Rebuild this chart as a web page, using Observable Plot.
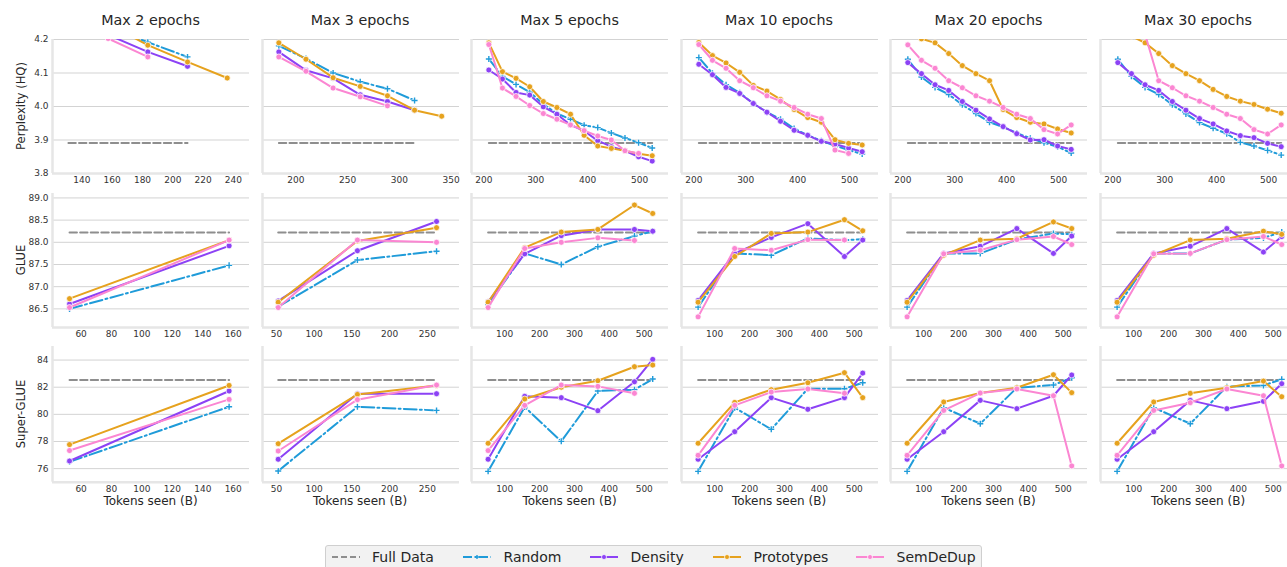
<!DOCTYPE html>
<html><head><meta charset="utf-8">
<script src="https://cdn.jsdelivr.net/npm/d3@7"></script>
<script src="https://cdn.jsdelivr.net/npm/@observablehq/plot@0.6"></script>
<style>
html,body{margin:0;padding:0;background:#fff;overflow:hidden;}
#wrap{position:relative;width:1287px;height:567px;overflow:hidden;font-family:"DejaVu Sans",sans-serif;color:#262626;background:#fff;}
.abs{position:absolute;white-space:nowrap;line-height:1;}
</style></head><body><div id="wrap"></div>
<script>
// ---------- data ----------
const epochLabels = ["Max 2 epochs","Max 3 epochs","Max 5 epochs","Max 10 epochs","Max 20 epochs","Max 30 epochs"];
const methods = ["Random","Density","Prototypes","SemDeDup"];
const rowLabels = ["Perplexity (HQ)","GLUE","Super-GLUE"];
const xLabel = "Tokens seen (B)";

const tokensPpl = [131.1,157.3,183.5,209.7,235.9,262.1,288.4,314.6,340.8,367.0,393.2,419.4,445.6,471.9,498.1,524.3];
const tokensEval = [52.4,157.3,262.1,367.0,471.9,524.3];
const pplStart = [0,2,3,3,3,3];

const pplRandom = [
 [4.32,4.234,4.192,4.148],
 [4.181,4.143,4.1,4.074,4.053,4.018],
 [4.142,4.09,4.066,4.043,4.007,3.979,3.962,3.944,3.937,3.921,3.906,3.892,3.876],
 [4.146,4.099,4.065,4.041,4.009,3.983,3.962,3.934,3.914,3.898,3.883,3.87,3.858],
 [4.141,4.088,4.057,4.036,4.005,3.979,3.953,3.939,3.921,3.905,3.892,3.88,3.861],
 [4.141,4.09,4.057,4.036,4.005,3.978,3.952,3.935,3.919,3.893,3.882,3.869,3.855]
];
const pplDensity = [
 [4.3,4.214,4.163,4.12],
 [4.163,4.108,4.084,4.035,4.015,3.989],
 [4.109,4.082,4.042,4.034,3.999,3.977,3.945,3.927,3.898,3.88,3.868,3.85,3.837],
 [4.126,4.095,4.057,4.039,4.009,3.983,3.956,3.929,3.914,3.896,3.888,3.876,3.865],
 [4.131,4.098,4.065,4.048,4.015,3.989,3.963,3.94,3.919,3.9,3.901,3.882,3.872],
 [4.131,4.098,4.065,4.048,4.015,3.989,3.964,3.948,3.927,3.913,3.907,3.89,3.88]
];
const pplPrototypes = [
 [4.33,4.247,4.183,4.133,4.085],
 [4.19,4.141,4.086,4.06,4.032,3.989,3.971],
 [4.19,4.104,4.084,4.059,4.015,3.997,3.977,3.914,3.882,3.875,3.868,3.859,3.853],
 [4.191,4.152,4.13,4.102,4.063,4.046,4.021,3.991,3.967,3.953,3.901,3.89,3.885],
 [4.24,4.202,4.19,4.158,4.122,4.098,4.077,3.991,3.967,3.953,3.948,3.933,3.921],
 [4.24,4.21,4.19,4.158,4.122,4.098,4.077,4.051,4.03,4.016,4.006,3.992,3.98]
];
const pplSemDeDup = [
 [4.29,4.203,4.148],
 [4.148,4.105,4.055,4.029,4.002],
 [4.185,4.055,4.03,4.003,3.979,3.962,3.945,3.928,3.912,3.9,3.868,3.86],
 [4.185,4.138,4.114,4.077,4.056,4.032,4.016,3.997,3.977,3.964,3.87,3.86],
 [4.184,4.138,4.114,4.077,4.056,4.032,4.016,3.997,3.977,3.964,3.931,3.918,3.945],
 [4.35,4.3,4.216,4.077,4.056,4.032,4.016,3.997,3.977,3.964,3.931,3.918,3.945]
];

const glueRandom = [
 [86.5,87.48],[86.55,87.6,87.8],
 [86.6,87.75,87.5,87.9,88.14,88.25],[86.54,87.75,87.71,88.09,88.05,88.07],
 [86.54,87.75,87.75,88.06,88.2,88.18],[86.54,87.75,87.75,88.06,88.1,88.23]
];
const glueDensity = [
 [86.61,87.92],[86.68,87.81,88.47],
 [86.66,87.74,88.15,88.29,88.29,88.25],[86.69,87.75,88.11,88.42,87.68,88.05],
 [86.69,87.75,87.91,88.31,87.75,88.14],[86.69,87.75,87.91,88.31,87.78,88.13]
];
const gluePrototypes = [
 [86.73,88.05],[86.65,88.03,88.33],
 [86.65,87.88,88.23,88.29,88.84,88.65],[86.65,87.68,88.2,88.23,88.51,88.26],
 [86.65,87.71,88.05,88.08,88.46,88.31],[86.65,87.71,88.05,88.08,88.25,88.18]
];
const glueSemDeDup = [
 [86.53,88.05],[86.53,88.05,88.0],
 [86.53,87.86,88.0,88.1,88.04],[86.32,87.86,87.82,88.06,88.05],
 [86.32,87.74,87.82,88.06,88.13,87.95],[86.32,87.74,87.75,88.06,88.13,87.95]
];

const sglueRandom = [
 [76.5,80.56],[75.83,80.56,80.29],
 [75.8,80.54,78.01,81.72,81.82,82.6],[75.8,80.49,78.9,81.89,81.89,82.33],
 [75.8,80.49,79.31,81.96,82.16,82.7],[75.8,80.49,79.31,82.04,82.13,82.58]
];
const sglueDensity = [
 [76.56,81.72],[76.69,81.52,81.52],
 [76.69,81.33,81.23,80.27,82.4,84.05],[76.69,78.72,81.23,80.37,81.23,83.04],
 [76.69,78.72,81.03,80.42,81.37,82.9],[76.69,78.72,81.03,80.42,80.96,82.26]
];
const sgluePrototypes = [
 [77.77,82.13],[77.84,81.47,82.13],
 [77.87,81.13,82.0,82.48,83.51,83.63],[77.87,80.88,81.82,82.33,83.07,81.23],
 [77.87,80.91,81.57,81.96,82.92,81.6],[77.87,80.91,81.55,81.96,82.45,81.3]
];
const sglueSemDeDup = [
 [77.33,81.1],[77.3,81.08,82.16],
 [77.33,80.66,82.16,82.06,81.55],[76.98,80.66,81.64,81.87,81.55],
 [76.98,80.29,81.57,81.87,81.37,76.2],[76.98,80.29,80.86,81.87,81.37,76.2]
];

const fullValues = [3.891, 88.22, 82.53];          // Full Data per metric
const fullPplIdx = [[0,3],[2,7],[3,15],[3,15],[3,15],[3,15]];
const fullEvalIdx = [[0,1],[0,2],[0,5],[0,5],[0,5],[0,5]];

const yTicks = [[3.8,3.9,4.0,4.1,4.2],[86.5,87.0,87.5,88.0,88.5,89.0],[76,78,80,82,84]];
const xTicksPpl = [[140,160,180,200,220,240],[200,250,300,350],[200,300,400,500],[200,300,400,500],[200,300,400,500],[200,300,400,500]];
const xTicksEval = [[60,80,100,120,140,160],[50,100,150,200,250],[100,200,300,400,500],[100,200,300,400,500],[100,200,300,400,500],[100,200,300,400,500]];

// ---------- layout / style ----------
const colors = {Random:"#1f9bd9", Density:"#8c42f5", Prototypes:"#e6a21e", SemDeDup:"#fb86d2"};
const fullColor = "#8e8e8e";
const yDomains = [[3.8,4.2],[86.08,89.1],[75,85]];
const xDomPpl = [[120.6,250.6],[167.7,358],[176.3,555.7],[176.3,555.7],[176.3,555.7],[176.3,555.7]];
const xDomEval = [[41.2,170.7],[31.6,292.5],[4.8,569.5],[4.8,569.5],[4.8,569.5],[4.8,569.5]];
const colLeft = [52,261.5,471,680.5,890,1099.5];
const panelW = 197;
const rowTop = [39.3,192.7,346];
const rowH = [134,134,135.7];
const yFormats = [d3.format(".1f"), d3.format(".1f"), d3.format("d")];
const mL = 40, mR = 12, mT = 6, mB = 22;

const pplSets = {Random:pplRandom, Density:pplDensity, Prototypes:pplPrototypes, SemDeDup:pplSemDeDup};
const glueSets = {Random:glueRandom, Density:glueDensity, Prototypes:gluePrototypes, SemDeDup:glueSemDeDup};
const sglueSets = {Random:sglueRandom, Density:sglueDensity, Prototypes:sgluePrototypes, SemDeDup:sglueSemDeDup};

const wrap = document.getElementById("wrap");

function seriesPoints(r, c, m) {
  if (r === 0) {
    const s = pplStart[c];
    return pplSets[m][c].map((v, i) => ({x: tokensPpl[s + i], y: v}));
  }
  const src = r === 1 ? glueSets : sglueSets;
  return src[m][c].map((v, i) => ({x: tokensEval[i], y: v}));
}
function fullPoints(r, c) {
  const idx = r === 0 ? fullPplIdx[c] : fullEvalIdx[c];
  const tk = r === 0 ? tokensPpl : tokensEval;
  return [{x: tk[idx[0]], y: fullValues[r]}, {x: tk[idx[1]], y: fullValues[r]}];
}

function panel(r, c) {
  const xDom = r === 0 ? xDomPpl[c] : xDomEval[c];
  const xt = r === 0 ? xTicksPpl[c] : xTicksEval[c];
  const yDom = yDomains[r];
  const marks = [
    Plot.gridY(yTicks[r], {stroke: "#d3d3d3", strokeOpacity: 1, strokeWidth: 1}),
    Plot.ruleX([xDom[0]], {stroke: "#e6e6e6", strokeWidth: 2.5}),
    Plot.ruleY([yDom[0]], {stroke: "#e6e6e6", strokeWidth: 2.5}),
    Plot.axisX(xt, {tickSize: 0, tickPadding: 3, label: null, fontSize: 9})
  ];
  if (c === 0) marks.push(Plot.axisY(yTicks[r], {tickSize: 0, tickPadding: 4, label: null, fontSize: 9, tickFormat: yFormats[r]}));
  marks.push(Plot.line(fullPoints(r, c), {x: "x", y: "y", stroke: fullColor, strokeWidth: 2, strokeDasharray: "7.4,3.2"}));
  for (const m of methods) {
    const pts = seriesPoints(r, c, m);
    if (m === "Random") {
      marks.push(Plot.line(pts, {x: "x", y: "y", stroke: colors[m], strokeWidth: 2, strokeDasharray: "12.8,3.2,2,3.2", clip: true}));
      marks.push(Plot.dot(pts, {x: "x", y: "y", symbol: "plus", r: 2.1, stroke: "white", strokeWidth: 2.6, clip: true}));
      marks.push(Plot.dot(pts, {x: "x", y: "y", symbol: "plus", r: 2.1, stroke: colors[m], strokeWidth: 1.4, clip: true}));
    } else {
      marks.push(Plot.line(pts, {x: "x", y: "y", stroke: colors[m], strokeWidth: 2, clip: true}));
      marks.push(Plot.dot(pts, {x: "x", y: "y", r: 3, fill: colors[m], stroke: "white", strokeWidth: 0.75, clip: true}));
    }
  }
  const svg = Plot.plot({
    width: panelW + mL + mR,
    height: rowH[r] + mT + mB,
    marginLeft: mL, marginRight: mR, marginTop: mT, marginBottom: mB,
    x: {domain: xDom},
    y: c === 0 ? {domain: yDom} : {domain: yDom, axis: null},
    style: {background: "transparent", color: "#333", fontFamily: "DejaVu Sans, sans-serif", overflow: "visible"},
    marks
  });
  svg.style.position = "absolute";
  svg.style.left = (colLeft[c] - mL) + "px";
  svg.style.top = (rowTop[r] - mT) + "px";
  svg.style.maxWidth = "none";
  wrap.appendChild(svg);
}

for (let r = 0; r < 3; r++) for (let c = 0; c < 6; c++) panel(r, c);

// titles
epochLabels.forEach((t, c) => {
  const d = document.createElement("div");
  d.className = "abs"; d.textContent = t;
  d.style.fontSize = "14.3px";
  d.style.left = (colLeft[c] + panelW / 2) + "px"; d.style.top = "20px";
  d.style.transform = "translate(-50%,-50%)";
  wrap.appendChild(d);
  const x = document.createElement("div");
  x.className = "abs"; x.textContent = xLabel;
  x.style.fontSize = "12px";
  x.style.left = (colLeft[c] + panelW / 2) + "px"; x.style.top = "500.5px";
  x.style.transform = "translate(-50%,-50%)";
  wrap.appendChild(x);
});
// row labels
const rowLabelY = [106, 259.7, 414];
rowLabels.forEach((t, r) => {
  const d = document.createElement("div");
  d.className = "abs"; d.textContent = t;
  d.style.fontSize = "11.6px";
  d.style.left = "22px"; d.style.top = rowLabelY[r] + "px";
  d.style.transform = "translate(-50%,-50%) rotate(-90deg)";
  wrap.appendChild(d);
});

// legend
const leg = document.createElement("div");
leg.className = "abs";
leg.style.left = "325px"; leg.style.top = "545px"; leg.style.width = "657px"; leg.style.height = "34px";
leg.style.background = "#f2f2f2"; leg.style.border = "1px solid #cfcfcf"; leg.style.borderRadius = "3px";
leg.style.boxSizing = "border-box";
wrap.appendChild(leg);
const legItems = [
  {name: "Full Data", color: fullColor, dash: "6,3", marker: null, x: 5.5},
  {name: "Random", color: colors.Random, dash: "9,2.5,2,2.5", marker: "plus", x: 137},
  {name: "Density", color: colors.Density, dash: null, marker: "circle", x: 264},
  {name: "Prototypes", color: colors.Prototypes, dash: null, marker: "circle", x: 387},
  {name: "SemDeDup", color: colors.SemDeDup, dash: null, marker: "circle", x: 530}
];
legItems.forEach(it => {
  const ns = "http://www.w3.org/2000/svg";
  const s = document.createElementNS(ns, "svg");
  s.setAttribute("width", 30); s.setAttribute("height", 12);
  s.style.position = "absolute"; s.style.left = it.x + "px"; s.style.top = "5px";
  const l = document.createElementNS(ns, "line");
  l.setAttribute("x1", 0); l.setAttribute("x2", 28); l.setAttribute("y1", 6); l.setAttribute("y2", 6);
  l.setAttribute("stroke", it.color); l.setAttribute("stroke-width", 2);
  if (it.dash) l.setAttribute("stroke-dasharray", it.dash);
  s.appendChild(l);
  if (it.marker === "circle") {
    const ci = document.createElementNS(ns, "circle");
    ci.setAttribute("cx", 14); ci.setAttribute("cy", 6); ci.setAttribute("r", 2.5);
    ci.setAttribute("fill", it.color); ci.setAttribute("stroke", "white"); ci.setAttribute("stroke-width", 0.75);
    s.appendChild(ci);
  } else if (it.marker === "plus") {
    const p = document.createElementNS(ns, "path");
    p.setAttribute("d", "M12,6H16M14,4V8");
    p.setAttribute("stroke", it.color); p.setAttribute("stroke-width", 1.4);
    s.appendChild(p);
  }
  leg.appendChild(s);
  const t = document.createElement("div");
  t.className = "abs"; t.textContent = it.name;
  t.style.fontSize = "14px"; t.style.left = (it.x + 40.5) + "px"; t.style.top = "4px";
  leg.appendChild(t);
});
</script></body></html>
